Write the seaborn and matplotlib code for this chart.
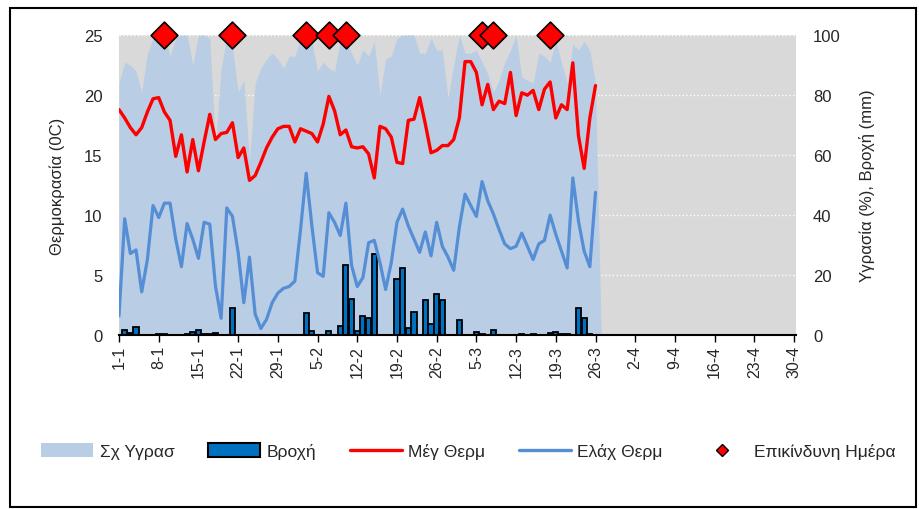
import matplotlib
matplotlib.use("Agg")
import matplotlib.pyplot as plt
from matplotlib.patches import Patch, Rectangle
from matplotlib.lines import Line2D
import seaborn as sns
import pandas as pd
import numpy as np

# ---- data ----
dates = pd.date_range("2021-01-01", "2021-04-30", freq="D")
day_labels = [f"{d.day}-{d.month}" for d in dates]

# relative humidity (%), 1-1 .. 26-3, followed by the first empty (0) day
humidity = [84, 91, 90, 88, 81, 94, 99, 100, 100, 93, 99, 100, 100, 90, 100, 100, 99, 63, 89, 99,
            96, 81, 85, 58, 84, 89, 92, 94, 92, 89, 93, 93, 99, 100, 98, 88, 91, 89, 88, 98,
            98, 94, 90, 95, 93, 98, 80, 92, 93, 99, 100, 100, 100, 94, 94, 99, 95, 95, 79, 90,
            100, 94, 94, 95, 91, 87, 81, 85, 91, 95, 100, 86, 85, 84, 94, 93, 91, 98, 91, 84,
            97, 95, 98, 95, 84, 0]

# rain (mm)
rain = [0, 1.7, 0.6, 2.6, 0, 0, 0, 0.3, 0.3, 0, 0, 0, 0.4, 1.0, 1.8, 0.5, 0.5, 0.8, 0, 0,
        8.9, 0, 0, 0, 0, 0, 0, 0, 0, 0, 0, 0, 0, 7.3, 1.4, 0, 0, 1.2, 0, 3.1,
        23.3, 12.0, 1.4, 6.4, 5.6, 27.0, 0, 0, 0, 18.7, 22.3, 2.2, 7.8, 0, 11.8, 3.7, 13.8, 11.8, 0, 0,
        5.1, 0, 0, 0.9, 0.5, 0, 1.8, 0, 0, 0, 0, 0.4, 0, 0.4, 0, 0, 0.8, 1.0, 0.4, 0.4,
        0, 9.1, 5.6, 0.3, 0]

# max temperature (C)
t_max = [18.8, 18.1, 17.3, 16.7, 17.3, 18.6, 19.7, 19.8, 18.6, 17.9, 14.9, 16.7, 13.6, 16.3, 13.7,
         16.1, 18.4, 16.3, 16.8, 16.9, 17.7, 14.8, 15.6, 12.9, 13.3, 14.4, 15.6, 16.5, 17.2, 17.4,
         17.4, 16.1, 17.2, 17.0, 16.8, 16.1, 17.6, 19.9, 18.7, 16.7, 17.1, 15.7, 15.6, 15.7, 15.1,
         13.1, 17.4, 17.2, 16.5, 14.4, 14.3, 17.9, 18.0, 19.8, 17.6, 15.2, 15.4, 15.8, 15.8, 16.3,
         18.1, 22.8, 22.8, 21.9, 19.2, 20.9, 18.8, 19.5, 19.3, 21.9, 18.3, 20.2, 20.0, 20.4, 18.8,
         20.5, 21.1, 18.1, 19.2, 18.8, 22.7, 16.6, 13.9, 18.1, 20.8]

# min temperature (C)
t_min = [1.6, 9.7, 6.8, 7.1, 3.6, 6.3, 10.8, 9.8, 11.0, 11.0, 8.0, 5.7, 9.3, 8.0, 6.4,
         9.4, 9.25, 4.1, 1.4, 10.6, 9.9, 6.9, 2.7, 6.5, 1.75, 0.55, 1.3, 2.7, 3.5, 3.9,
         4.05, 4.5, 8.8, 13.5, 9.1, 5.2, 4.9, 10.2, 9.4, 8.3, 11.0, 5.8, 4.05, 4.8, 7.7,
         7.9, 6.05, 3.8, 6.05, 9.4, 10.5, 9.1, 8.0, 6.9, 8.6, 6.6, 9.4, 7.4, 6.5, 5.4,
         9.0, 11.75, 10.8, 9.9, 12.8, 11.2, 10.1, 8.8, 7.6, 7.2, 7.4, 8.5, 7.4, 6.3, 7.6,
         7.9, 10.0, 8.4, 7.0, 5.6, 13.1, 9.5, 7.0, 5.7, 11.9]

# dangerous days (day index from 1-1)
danger_days = [8, 20, 33, 37, 40, 64, 66, 76]
danger_level = 25

# ---- style ----
sns.set_theme(style="white")
plt.rcParams["font.family"] = ["Liberation Sans", "DejaVu Sans"]

grey = "#D9D9D9"
hum_color = "#B9CDE5"
rain_color = "#0070C0"
red = "#FF0000"
blue = "#558ED5"

fig = plt.figure(figsize=(9.19, 5.10), dpi=100)
ax_t = fig.add_axes([0.1295, 0.341, 0.737, 0.588])
ax_h = ax_t.twinx()

# humidity axis sits behind, temperature axis on top
ax_t.set_zorder(2)
ax_h.set_zorder(1)
ax_t.patch.set_visible(False)
ax_h.patch.set_visible(True)
ax_h.set_facecolor(grey)

# ---- right axis: humidity area + rain bars ----
hum_x = np.arange(len(humidity))
ax_h.set_axisbelow(True)
ax_h.yaxis.grid(True, color="white", linestyle=":", linewidth=1)
ax_h.fill_between(hum_x, humidity, 0, color=hum_color, linewidth=0, zorder=1)

rain_df = pd.DataFrame({"day": np.arange(len(rain)), "mm": rain})
rain_df = rain_df[rain_df["mm"] > 0]
sns.barplot(data=rain_df, x="day", y="mm", ax=ax_h, native_scale=True, width=0.9,
            color=rain_color, saturation=1, edgecolor="black", linewidth=1.3, errorbar=None,
            zorder=2)

# ---- left axis: temperatures + dangerous days ----
days = np.arange(len(t_max))
sns.lineplot(x=days, y=t_max, ax=ax_t, color=red, linewidth=2.4)
sns.lineplot(x=days, y=t_min, ax=ax_t, color=blue, linewidth=2.3)
sns.scatterplot(x=danger_days, y=[danger_level] * len(danger_days), ax=ax_t, marker="D", s=185,
                color=red, edgecolor="black", linewidth=1.2, clip_on=False, zorder=5)

# ---- axes formatting ----
ax_t.set_xlim(0, 119.4)
ax_t.set_ylim(0, 25)
ax_h.set_ylim(0, 100)
ax_t.set_yticks(range(0, 26, 5))
ax_h.set_yticks(range(0, 101, 20))
ax_t.set_xticks(range(0, 120, 7))
ax_t.set_xticklabels(day_labels[::7], rotation=90)
ax_t.tick_params(axis="x", direction="out", length=5, width=1, color="black", labelsize=11.5,
                 pad=2, bottom=True)
ax_t.tick_params(axis="y", length=0, pad=12, labelsize=12)
ax_h.tick_params(axis="y", length=0, pad=12, labelsize=12)
ax_h.set_xlabel("")

for side in ["top", "left", "right"]:
    ax_t.spines[side].set_visible(False)
for side in ax_h.spines:
    ax_h.spines[side].set_visible(False)
ax_t.spines["bottom"].set_color("black")
ax_t.spines["bottom"].set_linewidth(1.5)

ax_t.set_ylabel("Θερμοκρασία (0C)", fontsize=12)
ax_h.set_ylabel("Υγρασία (%), Βροχή (mm)", fontsize=12)
ax_t.yaxis.set_label_coords(-0.08, 0.5)
ax_h.yaxis.set_label_coords(1.092, 0.5)

# ---- legend ----
handles = [
    Patch(facecolor=hum_color, edgecolor="none"),
    Patch(facecolor=rain_color, edgecolor="black", linewidth=1.5),
    Line2D([], [], color=red, linewidth=2.4),
    Line2D([], [], color=blue, linewidth=2.4),
    Line2D([], [], linestyle="none", marker="D", markersize=6, markerfacecolor=red,
           markeredgecolor="black"),
]
labels = ["Σχ Υγρασ", "Βροχή", "Μέγ Θερμ", "Ελάχ Θερμ", "Επικίνδυνη Ημέρα"]
fig.legend(handles, labels, loc="center", bbox_to_anchor=(0.51, 1 - 452 / 510), ncol=5,
           frameon=False, fontsize=12.5, handlelength=3.0, handleheight=0.8,
           columnspacing=1.95, handletextpad=0.35)

# chart border
fig.add_artist(Rectangle((10 / 919, 2 / 510), 906 / 919, 499 / 510, transform=fig.transFigure,
                         fill=False, edgecolor="black", linewidth=1.5))

fig.savefig("out.png", dpi=100)
